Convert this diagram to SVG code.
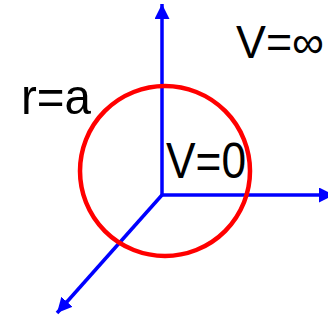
<svg xmlns="http://www.w3.org/2000/svg" width="328" height="320" viewBox="0 0 328 320">
<style>
.ax{stroke:#0000ff;stroke-width:3.5;fill:none}
.t{font-family:"Liberation Sans",Arial,sans-serif;font-size:50px;fill:#000}
</style>
<defs>
<marker id="ah" markerUnits="userSpaceOnUse" markerWidth="18" markerHeight="16" refX="15" refY="7.5" orient="auto">
<path d="M0,0 L15,7.5 L0,15 Z" fill="#0000ff"/>
</marker>
</defs>
<rect width="328" height="320" fill="#fff"/>
<g id="connectors">
<line class="ax" x1="162" y1="195" x2="162" y2="4" marker-end="url(#ah)"/>
<line class="ax" x1="162" y1="195" x2="334" y2="195" marker-end="url(#ah)"/>
<line class="ax" x1="162" y1="195" x2="57" y2="313" marker-end="url(#ah)"/>
</g>
<g id="sphere">
<circle cx="165" cy="171" r="85" fill="none" stroke="#ff0000" stroke-width="4.5"/>
</g>
<g id="labels">
<text class="t" x="166" y="178" textLength="80" lengthAdjust="spacingAndGlyphs">V=0</text>
<text class="t" x="236" y="58" style="font-size:46px" textLength="88" lengthAdjust="spacingAndGlyphs">V=∞</text>
<text class="t" x="21" y="114" textLength="70" lengthAdjust="spacingAndGlyphs">r=a</text>
</g>
</svg>
